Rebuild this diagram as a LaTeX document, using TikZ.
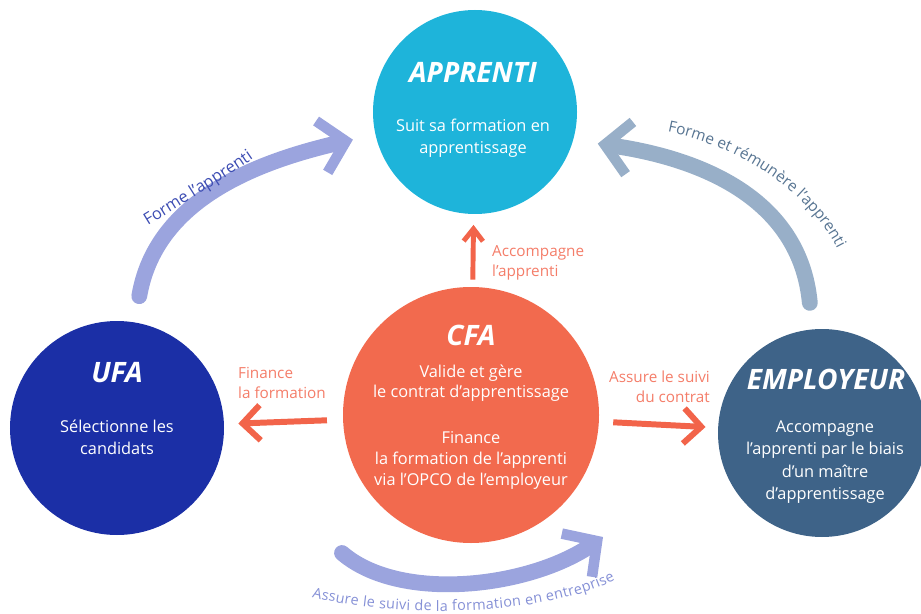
\documentclass[tikz,border=0pt]{standalone}
\usepackage{fontspec}
\setmainfont{Open Sans}
\usepackage{xcolor}
\usetikzlibrary{arrows.meta,decorations.text}

\definecolor{cyanApprenti}{HTML}{1EB4DA}
\definecolor{corailCFA}{HTML}{F26A4E}
\definecolor{bleuUFA}{HTML}{1B2FA6}
\definecolor{bleuEmployeur}{HTML}{3E6388}
\definecolor{corailFleche}{HTML}{F2644A}
\definecolor{corailTexte}{HTML}{F47D69}
\definecolor{lavande}{HTML}{9BA4DE}
\definecolor{grisBleu}{HTML}{98AFC8}
\definecolor{bleuTexte}{HTML}{3D4DB3}
\definecolor{ardoiseTexte}{HTML}{587592}
\definecolor{lavandeTexte}{HTML}{8590D6}

\begin{document}
\begin{tikzpicture}[
  rond/.style={circle,inner sep=0pt},
  titre/.style={text=white,font=\fontsize{16}{18}\selectfont\bfseries\itshape},
  texte/.style={text=white,align=center,font=\fontsize{9.3}{12.8}\selectfont},
  legende/.style={text=corailTexte,font=\fontsize{8.7}{11.4}\selectfont},
  fleche/.style={draw=corailFleche,line width=3.4pt,-{Straight Barb[length=10pt,width=20pt]}},
  courbe/.style={line width=9pt,line cap=round,-{Straight Barb[length=14pt,width=30pt,line width=6pt 0]}}
]

\useasboundingbox (0,0) rectangle (18.42,12.26);

% les quatre acteurs
\node[rond,fill=cyanApprenti,minimum size=4.08cm] (Apprenti) at (9.5,10.02) {};
\node[titre] (ApprentiTitre) at (9.46,10.82) {APPRENTI};
\node[texte] (ApprentiTexte) at (9.46,9.5) {Suit sa formation en\\apprentissage};

\node[rond,fill=corailCFA,minimum size=5.12cm] (CFA) at (9.42,3.96) {};
\node[titre] (CFATitre) at (9.42,5.56) {CFA};
\node[texte,font=\fontsize{9.3}{11.8}\selectfont] (CFATexte) at (9.42,3.72) {Valide et gère\\le contrat d'apprentissage\\[14.4pt]Finance\\la formation de l'apprenti\\via l'OPCO de l'employeur};

\node[rond,fill=bleuUFA,minimum size=4.28cm] (UFA) at (2.34,3.70) {};
\node[titre] (UFATitre) at (2.34,4.80) {UFA};
\node[texte] (UFATexte) at (2.34,3.51) {Sélectionne les\\candidats};

\node[rond,fill=bleuEmployeur,minimum size=4.16cm] (Employeur) at (16.44,3.60) {};
\node[titre] (EmployeurTitre) at (16.52,4.68) {EMPLOYEUR};
\node[texte] (EmployeurTexte) at (16.5,3.02) {Accompagne\\l'apprenti par le biais\\d'un maître\\d'apprentissage};


% fleches du CFA
\node[legende,anchor=west,align=left] (AccompagneTexte) at (9.72,7.0) {Accompagne\\l'apprenti};
\node[legende,anchor=west,align=left] (FinanceTexte) at (4.64,4.6) {Finance\\la formation};
\node[legende,anchor=east,align=right] (SuiviTexte) at (14.32,4.52) {Assure le suivi\\du contrat};

\draw[fleche,line width=2.8pt,-{Straight Barb[length=7pt,width=11pt]},shorten <=4pt,shorten >=6pt] (CFA) -- (Apprenti);
\draw[fleche,shorten <=9pt,shorten >=8pt] (CFA) -- (UFA);
\draw[fleche,shorten <=8pt,shorten >=7pt] (CFA) -- (Employeur);


% fleches courbes
\draw[courbe,draw=lavande,shorten <=15pt,shorten >=13pt] (UFA) .. controls (3.1,8.2) and (5.0,9.0) .. (Apprenti);
\draw[courbe,draw=grisBleu,shorten <=15pt,shorten >=14pt] (Employeur) .. controls (16.0,8.3) and (14.0,9.1) .. (Apprenti.344);

\coordinate (SuiviDepart) at (6.84,1.2);
\coordinate (SuiviArrivee) at (12.06,1.52);
\draw[courbe,draw=lavande] (SuiviDepart) .. controls (8.0,0.2) and (10.6,0.5) .. (SuiviArrivee);

\path[decorate,decoration={text along path,text align=center,
  text={|\color{bleuTexte}\fontsize{9.3}{11}\selectfont|Forme l'apprenti}}]
  (2.72,7.6) .. controls (3.35,7.98) and (4.6,8.75) .. (5.3,9.25);
\path[decorate,decoration={text along path,text align=left,
  text={|\color{ardoiseTexte}\fontsize{8.8}{10}\selectfont|Forme et rémunère l'apprenti}}]
  (13.35,9.62) .. controls (14.85,9.32) and (16.6,8.25) .. (17.0,6.6);
\path[decorate,decoration={text along path,text align={fit to path},
  text={|\color{lavandeTexte}\fontsize{8.2}{9}\selectfont|Assure le suivi de la formation en entreprise}}]
  (6.24,0.32) .. controls (7.8,-0.1) and (10.8,-0.1) .. (12.3,0.66);

\end{tikzpicture}
\end{document}
